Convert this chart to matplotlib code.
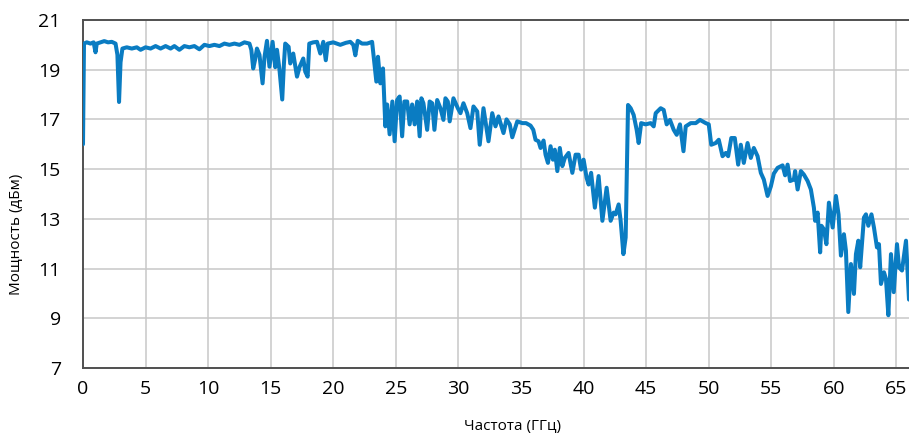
#!/usr/bin/env python3
"""
Output power vs frequency sweep plot
"""

import matplotlib.pyplot as plt

plt.rcParams['font.family'] = ['Open Sans', 'DejaVu Sans']
plt.rcParams['figure.dpi'] = 100

# Measured sweep: frequency (GHz) and output power (dBm)
freq_ghz = [
    0.0, 0.08, 0.3, 0.6, 0.85, 1.0, 1.1, 1.4, 1.7, 2.0, 2.3, 2.6, 2.75, 2.88, 3.0, 3.15,
    3.5, 3.9, 4.3, 4.6, 5.0, 5.4, 5.8, 6.2, 6.6, 7.0, 7.3, 7.7, 8.1, 8.5, 8.9, 9.3,
    9.7, 10.1, 10.5, 10.9, 11.3, 11.7, 12.1, 12.5, 12.9, 13.3, 13.45, 13.6, 13.75, 13.9,
    14.1, 14.35, 14.5, 14.7, 14.9, 15.15, 15.36, 15.5, 15.7, 15.92, 16.05, 16.16, 16.43,
    16.56, 16.8, 17.1, 17.3, 17.6, 17.76, 17.95, 18.08, 18.4, 18.7, 18.96, 19.2, 19.4,
    19.55, 20.0, 20.56, 21.0, 21.36, 21.6, 21.76, 21.95, 22.3, 22.7, 23.1, 23.3, 23.44,
    23.57, 23.76, 23.97, 24.1, 24.16, 24.3, 24.5, 24.72, 24.9, 25.1, 25.3, 25.5, 25.68,
    25.9, 26.1, 26.3, 26.5, 26.7, 26.9, 27.04, 27.2, 27.5, 27.7, 27.9, 28.08, 28.3,
    28.56, 28.8, 28.96, 29.15, 29.3, 29.6, 29.95, 30.16, 30.4, 30.7, 30.96, 31.2, 31.5,
    31.7, 32.0, 32.4, 32.7, 32.96, 33.2, 33.6, 33.84, 34.1, 34.3, 34.7, 35.1, 35.4,
    35.76, 35.98, 36.16, 36.4, 36.56, 36.8, 36.96, 37.15, 37.36, 37.55, 37.7, 37.9,
    38.1, 38.3, 38.5, 38.8, 39.1, 39.36, 39.6, 39.8, 40.0, 40.24, 40.4, 40.6, 40.9,
    41.2, 41.5, 41.84, 42.16, 42.4, 42.56, 42.8, 42.96, 43.18, 43.36, 43.55, 43.76,
    44.0, 44.24, 44.4, 44.6, 44.96, 45.36, 45.6, 45.76, 45.9, 46.16, 46.4, 46.64, 46.9,
    47.2, 47.44, 47.7, 47.98, 48.16, 48.56, 48.96, 49.3, 49.76, 50.0, 50.2, 50.56,
    50.8, 51.1, 51.36, 51.55, 51.8, 52.08, 52.35, 52.56, 52.8, 53.1, 53.36, 53.6, 53.9,
    54.16, 54.4, 54.7, 54.96, 55.2, 55.5, 55.9, 56.1, 56.3, 56.5, 56.8, 56.9, 57.1,
    57.36, 57.6, 57.9, 58.16, 58.4, 58.5, 58.7, 58.9, 59.0, 59.2, 59.4, 59.6, 59.9,
    60.16, 60.37, 60.56, 60.8, 60.96, 61.15, 61.36, 61.6, 61.76, 61.95, 62.1, 62.4,
    62.56, 62.75, 63.0, 63.2, 63.44, 63.6, 63.76, 64.0, 64.16, 64.35, 64.56, 64.78,
    65.04, 65.2, 65.44, 65.76, 66.0,
]
power_dbm = [
    16.0, 20.05, 20.1, 20.05, 20.1, 19.7, 20.05, 20.1, 20.15, 20.1, 20.12, 20.05, 19.6, 17.7, 19.3, 19.85,
    19.9, 19.85, 19.9, 19.8, 19.9, 19.85, 19.95, 19.85, 19.95, 19.85, 19.95, 19.8, 19.95, 19.9, 19.95, 19.82,
    20.0, 19.95, 20.0, 19.95, 20.05, 20.0, 20.05, 20.0, 20.1, 20.05, 19.8, 19.05, 19.4, 19.85,
    19.6, 18.45, 19.5, 20.16, 19.12, 20.12, 19.1, 19.8, 19.0, 17.8, 19.2, 20.05, 19.92,
    19.25, 19.65, 18.72, 19.1, 19.45, 18.92, 18.72, 20.05, 20.1, 20.12, 19.65, 20.12, 19.38,
    20.05, 20.1, 20.0, 20.08, 20.12, 20.0, 19.58, 20.16, 20.05, 20.05, 20.12, 19.18, 18.52,
    19.52, 18.45, 19.05, 17.5, 16.72, 17.6, 16.4, 17.72, 16.12, 17.78, 17.92, 16.32, 17.72,
    17.72, 16.8, 17.6, 16.8, 17.72, 16.32, 17.85, 17.65, 16.58, 17.72, 17.65, 16.58, 17.78,
    17.45, 16.98, 17.85, 17.72, 16.92, 17.85, 17.45, 17.25, 17.65, 17.25, 16.65, 17.52, 17.32,
    15.98, 17.45, 16.12, 17.25, 16.72, 17.12, 16.45, 17.0, 16.8, 16.28, 16.92, 16.85, 16.85,
    16.75, 16.58, 16.18, 16.12, 15.85, 16.15, 15.58, 15.25, 15.92, 15.38, 15.78, 14.92,
    15.85, 15.12, 15.45, 15.65, 14.85, 15.58, 15.58, 14.98, 15.38, 14.65, 14.38, 14.85, 13.45,
    14.72, 12.92, 14.25, 12.92, 13.25, 13.18, 13.58, 12.92, 11.58, 12.25, 17.58, 17.45,
    17.18, 16.58, 16.05, 16.85, 16.8, 16.85, 16.72, 17.25, 17.32, 17.45, 17.38, 16.8, 16.98,
    16.58, 16.38, 16.8, 15.72, 16.72, 16.85, 16.85, 16.98, 16.85, 16.8, 15.98, 16.05,
    16.18, 15.52, 15.65, 15.52, 16.25, 16.25, 15.18, 15.98, 15.25, 16.05, 15.45, 15.85, 15.52,
    14.85, 14.58, 13.92, 14.3, 14.82, 15.05, 15.15, 14.75, 15.18, 14.52, 14.58, 14.92, 14.18,
    14.92, 14.78, 14.52, 14.18, 13.45, 12.92, 13.25, 11.65, 12.72, 12.58, 11.98, 13.65, 12.65,
    13.92, 13.18, 11.52, 12.38, 11.72, 9.25, 11.18, 9.98, 11.58, 12.12, 11.05, 13.05,
    13.18, 12.72, 13.18, 12.65, 11.85, 11.98, 10.38, 10.85, 10.58, 9.12, 11.58, 10.05,
    11.98, 11.05, 10.92, 12.12, 9.75,
]

x_ticks = [0, 5, 10, 15, 20, 25, 30, 35, 40, 45, 50, 55, 60, 65]
y_ticks = [7, 9, 11, 13, 15, 17, 19, 21]


def create_power_chart():
    fig = plt.figure(figsize=(9.09, 4.37))
    ax = fig.add_axes([0.0913, 0.158, 0.9087, 0.7963])

    ax.plot(freq_ghz, power_dbm, color='#0a7cc2', linewidth=2.9,
            solid_joinstyle='round', solid_capstyle='round', zorder=3)

    ax.set_xlim(0, 66)
    ax.set_ylim(7, 21)
    ax.set_xticks(x_ticks)
    ax.set_yticks(y_ticks)
    ax.tick_params(axis='both', length=0, labelsize=14, colors='black')
    ax.tick_params(axis='x', pad=9)
    ax.tick_params(axis='y', pad=16)

    ax.grid(True, color='#c8c8c8', linewidth=1.1)
    ax.set_axisbelow(True)

    for side in ['left', 'top', 'bottom']:
        ax.spines[side].set_color('#505050')
        ax.spines[side].set_linewidth(1.4)
    ax.spines['right'].set_visible(False)

    ax.set_xlabel('Частота (ГГц)', fontsize=11)
    ax.xaxis.set_label_coords(0.52, -0.148)
    ax.set_ylabel('Мощность (дБм)', fontsize=11)
    ax.yaxis.set_label_coords(-0.071, 0.385)

    fig.savefig('out.png', dpi=100)
    plt.close(fig)


if __name__ == '__main__':
    create_power_chart()
